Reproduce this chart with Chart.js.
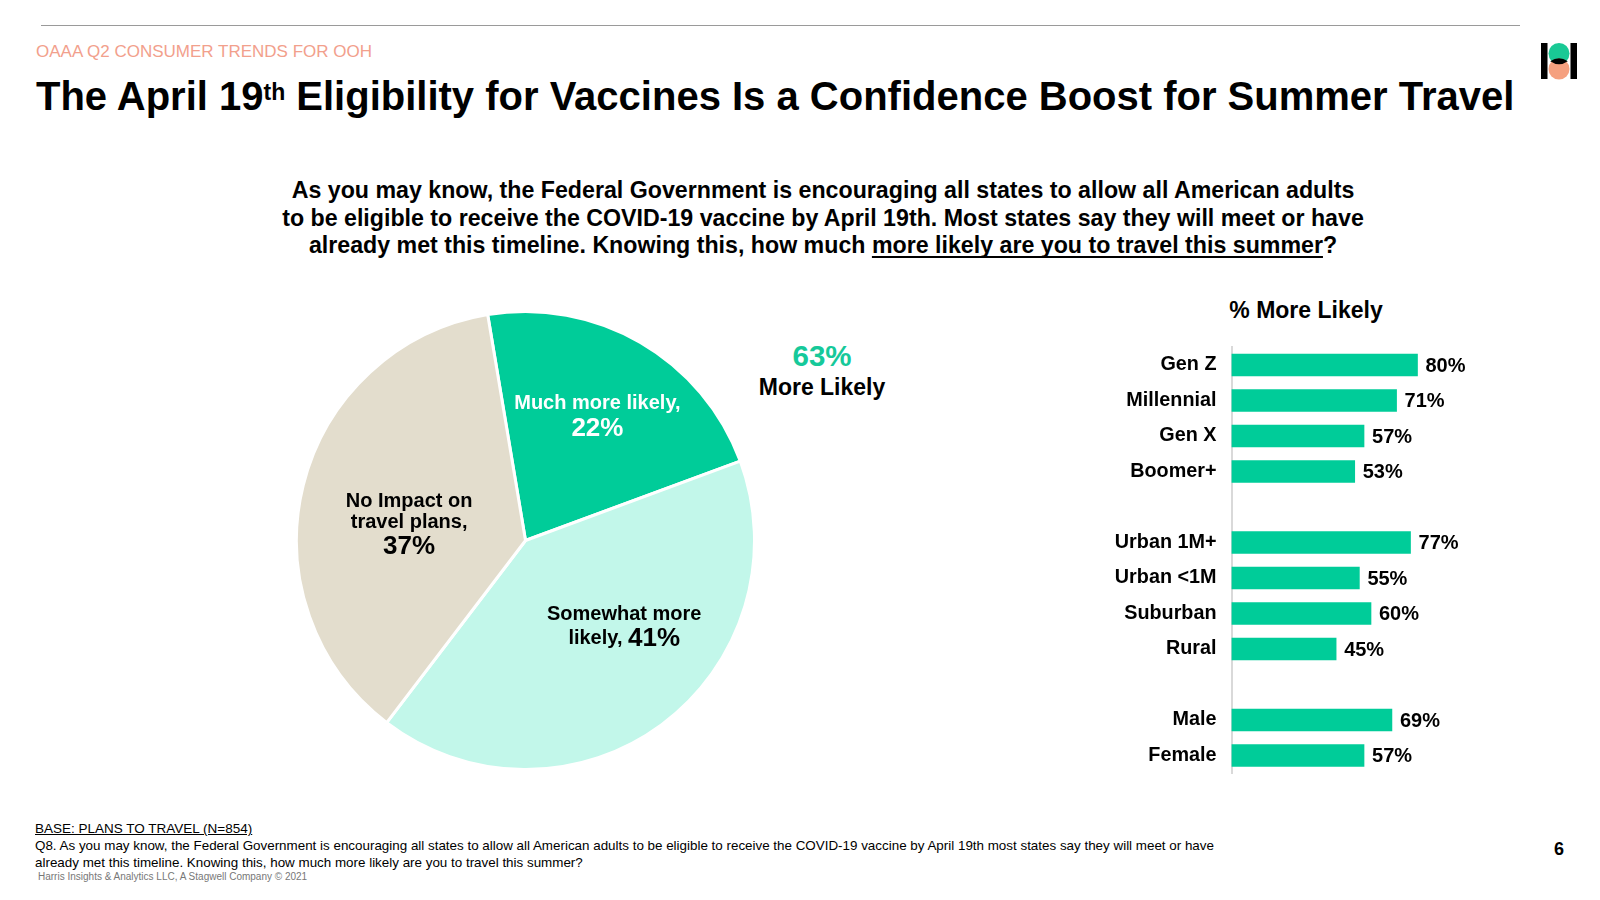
<!DOCTYPE html>
<html>
<head>
<meta charset="utf-8">
<script src="https://cdn.jsdelivr.net/npm/chart.js@4.4.1/dist/chart.umd.min.js"></script>
<style>
  html, body { margin:0; padding:0; background:#fff; }
  body { width:1600px; height:900px; position:relative; overflow:hidden; font-family:"Liberation Sans", Arial, sans-serif; color:#000; }
  .abs { position:absolute; white-space:nowrap; }
  #rule { left:41px; top:25px; width:1479px; height:0; border-top:1.5px solid #9a9a9a; }
  #kicker { left:36px; top:42px; font-size:17px; color:#f2a08c; }
  #title { left:36px; top:74px; font-size:40px; font-weight:bold; }
  #title sup { font-size:23px; position:relative; top:-10px; vertical-align:baseline; line-height:1; }
  #question { left:0; width:1646px; top:177px; font-size:23.2px; font-weight:bold; text-align:center; line-height:27.5px; }
  #question u { text-decoration-thickness:2px; text-underline-offset:3px; text-decoration-skip-ink:none; }
  #big63 { left:722px; width:200px; top:339px; text-align:center; font-size:29.5px; font-weight:bold; color:#16c99a; }
  #moreLikely { left:722px; width:200px; top:374px; text-align:center; font-size:23px; font-weight:bold; }
  #barTitle { left:1206px; width:200px; top:297px; text-align:center; font-size:23px; font-weight:bold; }
  #base { left:35px; top:821px; font-size:13.5px; text-decoration:underline; }
  #q8 { left:35px; top:837px; font-size:13.4px; line-height:17.3px; }
  #copy { left:38px; top:871px; font-size:10px; color:#777; }
  #page { left:1554px; top:839px; font-size:18px; font-weight:bold; }
  #pieWrap { left:295px; top:309.5px; width:461px; height:461px; }
  #barWrap { left:1100px; top:335px; width:440px; height:450px; }
  #logo { left:1539px; top:42px; }
</style>
</head>
<body>
<div class="abs" id="rule"></div>
<div class="abs" id="kicker">OAAA Q2 CONSUMER TRENDS FOR OOH</div>
<div class="abs" id="title">The April 19<sup>th</sup> Eligibility for Vaccines Is a Confidence Boost for Summer Travel</div>
<div class="abs" id="question">As you may know, the Federal Government is encouraging all states to allow all American adults<br>to be eligible to receive the COVID-19 vaccine by April 19th. Most states say they will meet or have<br>already met this timeline. Knowing this, how much <u>more likely are you to travel this summer</u>?</div>
<div class="abs" id="big63">63%</div>
<div class="abs" id="moreLikely">More Likely</div>
<div class="abs" id="barTitle">% More Likely</div>
<div class="abs" id="base">BASE: PLANS TO TRAVEL (N=854)</div>
<div class="abs" id="q8">Q8. As you may know, the Federal Government is encouraging all states to allow all American adults to be eligible to receive the COVID-19 vaccine by April 19th most states say they will meet or have<br>already met this timeline. Knowing this, how much more likely are you to travel this summer?</div>
<div class="abs" id="copy">Harris Insights &amp; Analytics LLC, A Stagwell Company © 2021</div>
<div class="abs" id="page">6</div>
<svg class="abs" id="logo" width="40" height="38" viewBox="0 0 40 38">
  <rect x="2" y="1" width="6.5" height="36" fill="#000"/>
  <rect x="31.5" y="1" width="6.5" height="36" fill="#000"/>
  <circle cx="20" cy="11.5" r="10.5" fill="#19c995"/>
  <circle cx="20" cy="27" r="10.5" fill="#f5a07f"/>
  <path d="M11.2,19.2 Q20,13.2 28.8,19.2 Q20,25.2 11.2,19.2 Z" fill="#000"/>
</svg>
<div class="abs" id="pieWrap"><canvas id="pie"></canvas></div>
<div class="abs" id="barWrap"><canvas id="bar"></canvas></div>

<script>
// ---- data ----
const pieCategories = ["Much more likely", "Somewhat more likely", "No Impact on travel plans"];
const pieValues = [22, 41, 37];
const pieColors = ["#00cc99", "#c2f7ea", "#e3ddcd"];

const barCategories = ["Gen Z", "Millennial", "Gen X", "Boomer+", "", "Urban 1M+", "Urban <1M", "Suburban", "Rural", "", "Male", "Female"];
const barValues = [80, 71, 57, 53, null, 77, 55, 60, 45, null, 69, 57];
const barColor = "#00cc99";

// label text per slice: lines of [text, fontSize] segments
const pieLabelLines = [
  [[["Much more likely,", 20]], [["22%", 26]]],
  [[["Somewhat more", 20]], [["likely, ", 20], ["41%", 26]]],
  [[["No Impact on", 20]], [["travel plans,", 20]], [["37%", 26]]]
];
const pieLabelColors = ["#ffffff", "#000000", "#000000"];
const pieLabelNudge = [[3, -5], [17, -24], [17, 17]];

const FONT = '"Liberation Sans", Arial, sans-serif';

const pieLabelPlugin = {
  id: 'pieLabels',
  afterDatasetsDraw(chart) {
    const ctx = chart.ctx;
    const meta = chart.getDatasetMeta(0);
    meta.data.forEach((arc, i) => {
      const p = arc.getProps(['x','y','startAngle','endAngle','outerRadius'], true);
      const mid = (p.startAngle + p.endAngle) / 2;
      const cx = p.x + Math.cos(mid) * p.outerRadius * 0.6 + pieLabelNudge[i][0];
      const cy = p.y + Math.sin(mid) * p.outerRadius * 0.6 + pieLabelNudge[i][1];
      const lines = pieLabelLines[i];
      const lh = lines.map(l => { const m = Math.max(...l.map(s => s[1])); return m > 22 ? m * 1.1 : m * 1.05; });
      const total = lh.reduce((a,b)=>a+b,0);
      let y = cy - total/2;
      ctx.save();
      ctx.fillStyle = pieLabelColors[i];
      ctx.textBaseline = 'alphabetic';
      ctx.textAlign = 'left';
      lines.forEach((segs, li) => {
        const base = y + lh[li]/2 + 7;
        let w = 0;
        segs.forEach(s => { ctx.font = 'bold ' + s[1] + 'px ' + FONT; w += ctx.measureText(s[0]).width; });
        let x = cx - w/2;
        segs.forEach(s => {
          ctx.font = 'bold ' + s[1] + 'px ' + FONT;
          ctx.fillText(s[0], x, base + (s[1] > 22 ? 2 : 0));
          x += ctx.measureText(s[0]).width;
        });
        y += lh[li];
      });
      ctx.restore();
    });
  }
};

new Chart(document.getElementById('pie'), {
  type: 'pie',
  data: {
    labels: pieCategories,
    datasets: [{ data: pieValues, backgroundColor: pieColors, borderColor: '#ffffff', borderWidth: 3 }]
  },
  options: {
    responsive: true, maintainAspectRatio: false, animation: false,
    rotation: -9.5,
    layout: { padding: 0 },
    plugins: { legend: { display: false }, tooltip: { enabled: false } }
  },
  plugins: [pieLabelPlugin]
});

const barLabelPlugin = {
  id: 'barLabels',
  afterDatasetsDraw(chart) {
    const ctx = chart.ctx;
    const meta = chart.getDatasetMeta(0);
    ctx.save();
    ctx.font = 'bold 20px ' + FONT;
    ctx.fillStyle = '#000';
    ctx.textBaseline = 'middle';
    ctx.textAlign = 'left';
    meta.data.forEach((bar, i) => {
      const v = barValues[i];
      if (v === null) return;
      ctx.fillText(v + '%', bar.x + 8, bar.y + 1);
    });
    ctx.restore();
  }
};

new Chart(document.getElementById('bar'), {
  type: 'bar',
  data: {
    labels: barCategories,
    datasets: [{ data: barValues, backgroundColor: barColor, barThickness: 22 }]
  },
  options: {
    indexAxis: 'y',
    responsive: true, maintainAspectRatio: false, animation: false,
    layout: { padding: { top: 12.25, bottom: 11.75, right: 76, left: 0 } },
    scales: {
      x: { display: false, min: 0, max: 100 },
      y: {
        afterFit(scale) { scale.width = 131.5; scale.paddingTop = 0; scale.paddingBottom = 0; },
        grid: { display: false, drawTicks: false },
        border: { display: true, color: '#d9d9d9', width: 2 },
        ticks: { color: '#000', padding: 15, font: { family: FONT, size: 19.8, weight: 'bold' } }
      }
    },
    plugins: { legend: { display: false }, tooltip: { enabled: false } }
  },
  plugins: [barLabelPlugin]
});
</script>
</body>
</html>
